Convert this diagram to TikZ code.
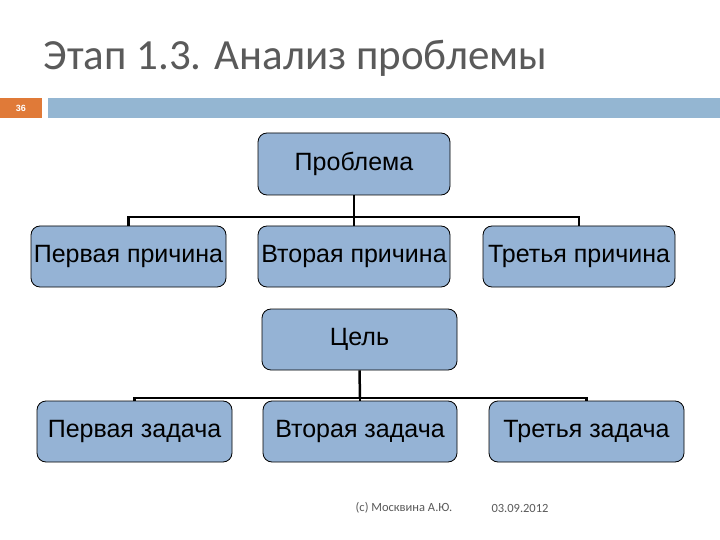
\documentclass[tikz,border=0pt]{standalone}
\usepackage{fontspec}
\setmainfont{Liberation Sans}
\newfontfamily\titlefont{Carlito}
\definecolor{boxfill}{RGB}{149,179,213}
\definecolor{barblue}{RGB}{148,182,210}
\definecolor{orng}{RGB}{224,122,56}
\definecolor{titlegrey}{RGB}{90,90,90}
\begin{document}
\begin{tikzpicture}[x=1pt,y=-1pt,
  bx/.style={draw=black,line width=0.8pt,fill=boxfill,rounded corners=9pt,font=\fontsize{25}{29}\selectfont,inner sep=0pt},
  conn/.style={line width=2.5pt,black}]
\useasboundingbox (0,0) rectangle (720,540);
\fill[white] (0,0) rectangle (720,540);
\node[anchor=west,text=titlegrey,font=\titlefont\fontsize{43}{48}\selectfont] (title) at (40,58) {Этап 1.3. Анализ проблемы};
\fill[orng] (0,98) rectangle (42,118);
\node[text=white,font=\fontsize{9}{10}\selectfont\bfseries] (num) at (21,108) {36};
\fill[barblue] (48,98) rectangle (720,118);
\node[bx,minimum width=192pt,minimum height=62pt] (p) at (354,164) {Проблема};
\node[bx,minimum width=195pt,minimum height=61pt] (p1) at (128.5,256.5) {Первая причина};
\node[bx,minimum width=192pt,minimum height=61pt] (p2) at (354,256.5) {Вторая причина};
\node[bx,minimum width=192pt,minimum height=61pt] (p3) at (579,256.5) {Третья причина};
\node[bx,minimum width=195pt,minimum height=61pt] (c) at (359.5,339.5) {Цель};
\node[bx,minimum width=195pt,minimum height=61pt] (t1) at (134.5,431.5) {Первая задача};
\node[bx,minimum width=194pt,minimum height=61pt] (t2) at (360,431.5) {Вторая задача};
\node[bx,minimum width=195pt,minimum height=61pt] (t3) at (586.5,431.5) {Третья задача};
\coordinate (j1) at (354,217);
\coordinate (j2) at (360,398);
\draw[conn] (p.south) -- (j1);
\draw[conn] (p1.north) |- (j1) -| (p3.north);
\draw[conn] (j1) -- (p2.north);
\draw[conn] (c.south) -- (j2);
\draw[conn] (t1.north) |- (j2) -| (t3.north);
\draw[conn] (j2) -- (t2.north);
\node[text=titlegrey,font=\titlefont\fontsize{12.5}{14}\selectfont] (auth) at (404,508) {(c) Москвина А.Ю.};
\node[text=titlegrey,font=\titlefont\fontsize{12.5}{14}\selectfont] (date) at (520,508) {03.09.2012};
\end{tikzpicture}
\end{document}
